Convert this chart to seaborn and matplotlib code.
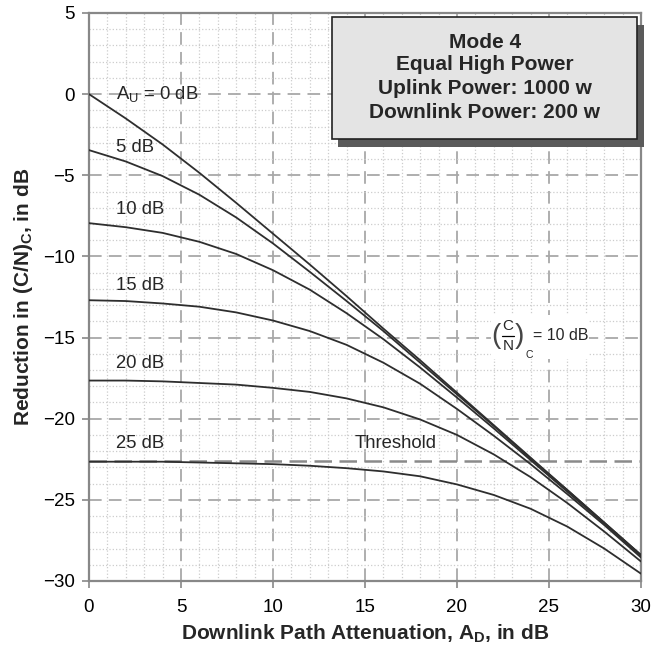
import numpy as np
import pandas as pd
import seaborn as sns
import matplotlib.pyplot as plt
from matplotlib.patches import Rectangle
from matplotlib.ticker import MultipleLocator

# downlink path attenuation A_D (dB)
a_d = [0, 2, 4, 6, 8, 10, 12, 14, 16, 18, 20, 22, 24, 26, 28, 30]

# reduction in (C/N)_C (dB), one list per uplink attenuation A_U
red_au0 = [0.0, -1.5, -3.1, -4.85, -6.7, -8.6, -10.5, -12.45, -14.45, -16.4, -18.4, -20.4, -22.4, -24.4, -26.4, -28.4]
red_au5 = [-3.45, -4.15, -5.05, -6.2, -7.6, -9.2, -10.95, -12.75, -14.6, -16.55, -18.5, -20.45, -22.45, -24.4, -26.4, -28.4]
red_au10 = [-7.95, -8.2, -8.55, -9.1, -9.85, -10.85, -12.05, -13.5, -15.1, -16.85, -18.7, -20.6, -22.55, -24.5, -26.45, -28.45]
red_au15 = [-12.7, -12.75, -12.9, -13.1, -13.45, -13.95, -14.6, -15.45, -16.55, -17.85, -19.4, -21.05, -22.8, -24.65, -26.55, -28.55]
red_au20 = [-17.65, -17.65, -17.7, -17.8, -17.9, -18.1, -18.35, -18.75, -19.3, -20.05, -21.0, -22.2, -23.6, -25.2, -26.95, -28.8]
red_au25 = [-22.65, -22.65, -22.65, -22.7, -22.75, -22.8, -22.9, -23.05, -23.25, -23.55, -24.05, -24.7, -25.55, -26.65, -28.0, -29.55]

uplink_att = [0, 5, 10, 15, 20, 25]
curve_labels = [r"A$_\mathrm{U}$ = 0 dB", "5 dB", "10 dB", "15 dB", "20 dB", "25 dB"]
label_y = [0.0, -3.3, -7.1, -11.8, -16.6, -21.5]

threshold = -22.6
box_lines = ["Mode 4", "Equal High Power", "Uplink Power: 1000 w", "Downlink Power: 200 w"]

rows = []
for au, vals in zip(uplink_att, [red_au0, red_au5, red_au10, red_au15, red_au20, red_au25]):
    for x, y in zip(a_d, vals):
        rows.append({"A_D": x, "red": y, "A_U": au})
df = pd.DataFrame(rows)

sns.set_theme(style="white")
plt.rcParams["font.family"] = ["Liberation Sans", "DejaVu Sans"]
plt.rcParams["mathtext.fontset"] = "custom"
plt.rcParams["mathtext.rm"] = "Liberation Sans"
plt.rcParams["mathtext.it"] = "Liberation Sans"
plt.rcParams["mathtext.bf"] = "Liberation Sans:bold"

fig = plt.figure(figsize=(6.52, 6.53), dpi=100)
ax = fig.add_axes([0.1365, 0.1103, 0.8466, 0.8698])

sns.lineplot(data=df, x="A_D", y="red", hue="A_U", palette=["#2e2e2e"] * 6,
             legend=False, lw=1.3, ax=ax, zorder=3)

ax.set_xlim(0, 30)
ax.set_ylim(-30, 5)
ax.xaxis.set_major_locator(MultipleLocator(5))
ax.yaxis.set_major_locator(MultipleLocator(5))
ax.xaxis.set_minor_locator(MultipleLocator(1))
ax.yaxis.set_minor_locator(MultipleLocator(1))
ax.grid(which="major", color="#a8a8a8", ls=(0, (7, 4)), lw=1.3, zorder=1)
ax.grid(which="minor", color="#cccccc", ls=":", lw=0.9, zorder=1)
ax.tick_params(which="minor", length=0)
ax.tick_params(which="major", length=5, width=1.2, color="#888888",
               labelsize=13.5, labelcolor="black", direction="out")
ax.tick_params(axis="x", pad=8)
ax.tick_params(axis="y", pad=5)
ax.tick_params(left=True, bottom=True)
for s in ax.spines.values():
    s.set_color("#888888")
    s.set_linewidth(1.6)

# threshold line
ax.axhline(threshold, color="#8a8a8a", ls=(0, (7, 3)), lw=1.8, zorder=2)
ax.text(14.45, -21.5, "Threshold", fontsize=13.3, va="center", ha="left")

# curve labels
for lab, ly in zip(curve_labels, label_y):
    ax.text(1.45, ly, lab, fontsize=13.3, va="center", ha="left")

# (C/N)c = 10 dB annotation, built piece by piece
ax.add_patch(Rectangle((21.85, -16.35), 5.35, 2.75, fc="white", ec="none", zorder=2.5))
ax.text(22.12, -14.9, "(", fontsize=20, va="center", ha="center", zorder=4, color="#444444")
ax.text(23.38, -14.9, ")", fontsize=20, va="center", ha="center", zorder=4, color="#444444")
ax.text(22.77, -14.3, "C", fontsize=11, va="center", ha="center", zorder=4)
ax.text(22.77, -15.5, "N", fontsize=11, va="center", ha="center", zorder=4)
ax.plot([22.45, 23.1], [-14.9, -14.9], color="black", lw=0.9, zorder=4)
ax.text(23.95, -16.05, "C", fontsize=7.5, va="center", ha="center", zorder=4)
ax.text(24.15, -14.9, "= 10 dB", fontsize=11.5, va="center", ha="left", zorder=4)

# title box with shadow
ax.add_patch(Rectangle((13.55, -3.25), 16.6, 7.51, fc="#5a5a5a", ec="none",
                       zorder=5, clip_on=False))
ax.add_patch(Rectangle((13.2, -2.76), 16.6, 7.51, fc="#e4e4e4", ec="#222222",
                       lw=1.2, zorder=6, clip_on=False))
for line, ty in zip(box_lines, [3.2, 1.8, 0.32, -1.16]):
    ax.text(21.5, ty, line, fontsize=15, fontweight="bold", ha="center",
            va="center", zorder=7)

ax.set_xlabel(r"Downlink Path Attenuation, A$_\mathbf{D}$, in dB",
              fontsize=15, fontweight="bold", labelpad=5)
ax.set_ylabel(r"Reduction in (C/N)$_\mathbf{C}$, in dB",
              fontsize=15, fontweight="bold", labelpad=6)

fig.savefig("out.png", dpi=100)
